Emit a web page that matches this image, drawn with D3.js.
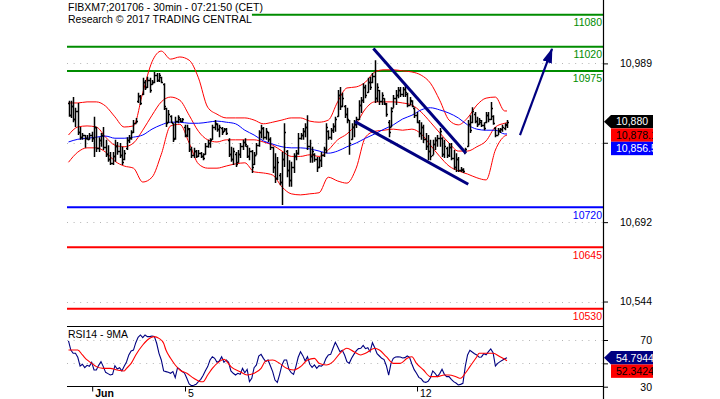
<!DOCTYPE html>
<html>
<head>
<meta charset="utf-8">
<script src="https://cdn.jsdelivr.net/npm/d3@7"></script>
<style>
body { margin: 0; background: #fff; }
svg { display: block; font-family: "Liberation Sans", Arial, sans-serif; }
</style>
</head>
<body>
<div id="chart"></div>
<script>
// Datos (barras de 30 min, índice = número de barra)
const titleLines = ['FIBXM7;201706 - 30min - 07:21:50 (CET)', 'Research \u00a9 2017 TRADING CENTRAL'];
const rsiTitle = 'RSI14 - 9MA';

const dateTicks = [10, 50, 150];
const dateLabels = ['Jun', '5', '12'];

// la etiqueta de 10,840.5 y la de 50 quedan tapadas por los recuadros de valores
const priceTicks = [10989, 10840.5, 10692, 10543.5];
const priceTickLabels = ['10,989', '', '10,692', '10,544'];
const rsiTicks = [70, 50, 30];
const rsiTickLabels = ['70', '', '30'];

const greenLevels = [11080, 11020, 10975];
const blueLevels = [10720];
const redLevels = [10645, 10530];

const barOpen = [
  10915, 10893, 10910, 10885, 10900, 10860, 10852, 10855, 10850, 10848,
  10855, 10850, 10870, 10830, 10845, 10855, 10832, 10820, 10810, 10803,
  10815, 10835, 10825, 10818, 10810, 10830, 10845, 10850, 10860, 10878,
  10918, 10928, 10932, 10955, 10945, 10958, 10950, 10955, 10968, 10958,
  10964, 10950, 10905, 10880, 10890, 10877, 10850, 10882, 10885, 10882,
  10870, 10855, 10866, 10828, 10818, 10825, 10815, 10822, 10815, 10820,
  10835, 10840, 10848, 10870, 10876, 10866, 10868, 10862, 10866, 10845,
  10820, 10810, 10820, 10805, 10820, 10835, 10842, 10835, 10815, 10825,
  10800, 10818, 10836, 10860, 10868, 10852, 10860, 10848, 10832, 10795,
  10775, 10780, 10768, 10810, 10825, 10790, 10770, 10795, 10815, 10822,
  10850, 10855, 10862, 10870, 10835, 10815, 10820, 10810, 10795, 10808,
  10818, 10828, 10862, 10852, 10865, 10872, 10890, 10930, 10910, 10910,
  10895, 10883, 10848, 10870, 10875, 10885, 10912, 10920, 10945, 10935,
  10955, 10955, 10965, 10925, 10940, 10918, 10924, 10913, 10880, 10870,
  10906, 10925, 10930, 10940, 10932, 10942, 10932, 10912, 10918, 10906,
  10892, 10880, 10858, 10870, 10848, 10835, 10825, 10818, 10838, 10845,
  10850, 10850, 10820, 10830, 10818, 10832, 10812, 10795, 10810, 10790,
  10790, 10822, 10835, 10875, 10880, 10895, 10882, 10876, 10880, 10874,
  10880, 10892, 10885, 10890, 10868, 10855, 10862, 10866, 10868, 10874
];
const barHigh = [
  10919, 10919, 10926, 10906, 10915, 10870, 10859, 10855, 10855, 10859,
  10861, 10889, 10870, 10851, 10859, 10870, 10846, 10836, 10823, 10823,
  10846, 10842, 10840, 10833, 10827, 10851, 10855, 10864, 10883, 10887,
  10934, 10930, 10962, 10958, 10964, 10962, 10958, 10973, 10971, 10971,
  10964, 10952, 10906, 10902, 10892, 10877, 10889, 10892, 10887, 10887,
  10874, 10874, 10868, 10833, 10831, 10827, 10827, 10823, 10821, 10840,
  10846, 10849, 10874, 10883, 10877, 10874, 10870, 10868, 10868, 10849,
  10833, 10831, 10823, 10827, 10840, 10846, 10849, 10836, 10831, 10827,
  10823, 10840, 10864, 10874, 10870, 10868, 10861, 10851, 10833, 10821,
  10814, 10784, 10823, 10877, 10827, 10808, 10805, 10821, 10827, 10859,
  10859, 10868, 10877, 10892, 10846, 10833, 10821, 10814, 10814, 10823,
  10833, 10877, 10864, 10868, 10877, 10889, 10939, 10945, 10934, 10911,
  10906, 10883, 10877, 10883, 10889, 10920, 10926, 10952, 10949, 10962,
  10964, 10971, 10995, 10952, 10939, 10935, 10924, 10915, 10883, 10907,
  10930, 10939, 10945, 10945, 10945, 10949, 10934, 10926, 10920, 10907,
  10898, 10883, 10879, 10874, 10859, 10855, 10846, 10846, 10851, 10855,
  10868, 10851, 10846, 10833, 10840, 10840, 10827, 10821, 10814, 10795,
  10793, 10831, 10883, 10892, 10907, 10898, 10889, 10887, 10883, 10879,
  10898, 10898, 10917, 10892, 10870, 10868, 10868, 10874, 10877, 10883
];
const barLow = [
  10889, 10887, 10879, 10870, 10855, 10846, 10846, 10831, 10846, 10846,
  10842, 10814, 10823, 10823, 10833, 10827, 10814, 10805, 10799, 10799,
  10805, 10818, 10812, 10799, 10808, 10827, 10840, 10846, 10859, 10877,
  10915, 10911, 10930, 10939, 10943, 10934, 10949, 10952, 10954, 10954,
  10952, 10902, 10870, 10877, 10877, 10842, 10846, 10877, 10879, 10879,
  10851, 10851, 10823, 10812, 10812, 10812, 10814, 10812, 10808, 10818,
  10831, 10831, 10846, 10864, 10861, 10851, 10855, 10861, 10855, 10814,
  10805, 10799, 10795, 10803, 10812, 10827, 10833, 10812, 10808, 10784,
  10799, 10818, 10833, 10849, 10846, 10846, 10842, 10827, 10784, 10765,
  10771, 10761, 10724, 10795, 10776, 10758, 10758, 10784, 10808, 10818,
  10846, 10846, 10851, 10827, 10803, 10803, 10805, 10786, 10793, 10795,
  10814, 10821, 10846, 10846, 10859, 10861, 10889, 10902, 10907, 10887,
  10877, 10818, 10846, 10851, 10868, 10883, 10896, 10915, 10924, 10934,
  10939, 10952, 10915, 10917, 10911, 10911, 10911, 10889, 10851, 10870,
  10906, 10911, 10924, 10926, 10926, 10926, 10907, 10911, 10907, 10887,
  10877, 10851, 10846, 10840, 10827, 10808, 10808, 10818, 10827, 10833,
  10833, 10814, 10812, 10812, 10814, 10808, 10790, 10786, 10786, 10786,
  10784, 10821, 10833, 10859, 10877, 10877, 10870, 10874, 10870, 10864,
  10877, 10879, 10883, 10874, 10851, 10855, 10859, 10861, 10864, 10868
];
const barClose = [
  10893, 10910, 10885, 10900, 10860, 10852, 10855, 10850, 10848, 10855,
  10850, 10870, 10830, 10845, 10855, 10832, 10820, 10810, 10803, 10815,
  10835, 10825, 10818, 10805, 10822, 10845, 10850, 10860, 10878, 10882,
  10928, 10915, 10955, 10945, 10958, 10940, 10955, 10968, 10958, 10968,
  10955, 10910, 10878, 10895, 10880, 10848, 10882, 10888, 10882, 10885,
  10855, 10868, 10828, 10818, 10825, 10815, 10822, 10815, 10812, 10835,
  10840, 10845, 10870, 10878, 10866, 10870, 10860, 10866, 10858, 10820,
  10810, 10825, 10800, 10820, 10835, 10842, 10838, 10815, 10825, 10795,
  10818, 10836, 10860, 10868, 10852, 10862, 10848, 10832, 10795, 10775,
  10805, 10768, 10810, 10860, 10790, 10770, 10795, 10815, 10822, 10850,
  10855, 10862, 10870, 10835, 10815, 10825, 10810, 10795, 10808, 10818,
  10828, 10870, 10852, 10865, 10872, 10885, 10930, 10910, 10925, 10895,
  10885, 10840, 10870, 10875, 10885, 10912, 10920, 10945, 10930, 10955,
  10945, 10965, 10925, 10945, 10918, 10930, 10915, 10895, 10860, 10900,
  10925, 10930, 10940, 10932, 10942, 10935, 10912, 10920, 10910, 10892,
  10880, 10858, 10870, 10848, 10835, 10825, 10815, 10838, 10845, 10850,
  10862, 10820, 10835, 10818, 10832, 10812, 10795, 10810, 10790, 10792,
  10788, 10828, 10875, 10865, 10900, 10882, 10875, 10884, 10874, 10868,
  10892, 10885, 10905, 10878, 10855, 10865, 10866, 10870, 10875, 10880
];

// Bandas de Bollinger y media (leídas cada 4 barras)
const bandIdx = [0, 4, 8, 12, 16, 20, 24, 28, 32, 36, 40, 44, 48, 52, 56, 60, 64, 68, 72, 76,
  80, 84, 88, 92, 96, 100, 104, 108, 112, 116, 120, 124, 128, 132, 136, 140, 144, 148, 152, 156,
  160, 164, 168, 172, 176, 180, 184, 188, 189];
const bbUpper = [10915, 10915, 10917, 10917, 10909, 10889, 10870, 10872, 10934, 10992, 11012, 10997, 11001, 10995, 10962, 10907, 10894, 10887, 10887, 10887,
  10883, 10876, 10879, 10883, 10887, 10887, 10881, 10879, 10883, 10917, 10943, 10945, 10954, 10973, 10977, 10977, 10975, 10973, 10967, 10952,
  10920, 10883, 10874, 10887, 10911, 10924, 10926, 10900, 10900];
const bbMiddle = [10855, 10870, 10872, 10870, 10851, 10836, 10833, 10840, 10864, 10892, 10917, 10926, 10920, 10892, 10862, 10846, 10842, 10846, 10846, 10846,
  10846, 10842, 10836, 10825, 10815, 10815, 10818, 10815, 10827, 10846, 10857, 10876, 10904, 10917, 10917, 10917, 10915, 10911, 10898, 10879,
  10859, 10840, 10825, 10825, 10833, 10844, 10870, 10877, 10878];
const bbLower = [10804, 10823, 10831, 10831, 10823, 10806, 10797, 10793, 10767, 10776, 10819, 10872, 10875, 10840, 10801, 10793, 10793, 10797, 10801, 10803,
  10786, 10784, 10780, 10758, 10745, 10743, 10745, 10747, 10776, 10769, 10765, 10793, 10851, 10862, 10864, 10866, 10864, 10866, 10857, 10836,
  10815, 10797, 10788, 10782, 10775, 10771, 10827, 10853, 10855];
const maBlue = [10842, 10847, 10849, 10851, 10853, 10849, 10849, 10851, 10855, 10866, 10874, 10879, 10879, 10877, 10877, 10879, 10881, 10879, 10876, 10864,
  10855, 10844, 10838, 10833, 10831, 10831, 10829, 10825, 10821, 10825, 10833, 10840, 10849, 10857, 10866, 10874, 10885, 10892, 10902, 10906,
  10902, 10896, 10887, 10874, 10866, 10864, 10864, 10857, 10857];

// Líneas de tendencia y flecha: [índice de barra, precio]
const trendUpper = [[131.4, 11017], [171.3, 10821]];
const trendLower = [[123.5, 10880], [172.3, 10763]];
const arrowPts = [[194.6, 10855], [208.4, 11016]];

// RSI 14 por barra
const rsiValues = [
  69.2, 61.4, 58.6, 58.6, 55.2, 47.7, 49.2, 46.3, 48.3, 47.5,
  50.9, 44.3, 44.3, 48.3, 51.5, 47.2, 42.3, 41.2, 40.0, 40.6,
  48.0, 45.2, 46.3, 43.5, 47.5, 51.2, 57.2, 60.6, 61.4, 67.7,
  72.3, 74.3, 72.0, 74.3, 72.9, 72.9, 73.4, 73.1, 67.2, 58.6,
  52.9, 43.5, 42.9, 42.3, 41.5, 42.9, 37.7, 46.3, 44.9, 42.9,
  41.7, 37.2, 32.3, 30.9, 31.2, 32.0, 34.3, 36.3, 39.5, 43.7,
  47.2, 52.9, 55.7, 54.3, 50.9, 52.0, 55.7, 50.9, 52.9, 50.9,
  43.5, 41.5, 40.0, 41.5, 40.6, 45.7, 42.0, 44.9, 34.3, 37.2,
  46.3, 48.6, 56.3, 57.7, 54.3, 51.5, 52.9, 48.0, 42.9, 35.7,
  33.7, 40.6, 48.6, 52.9, 52.9, 44.9, 42.0, 40.6, 47.2, 55.2,
  60.0, 56.6, 52.0, 55.7, 49.2, 46.6, 48.6, 45.7, 48.0, 47.5,
  49.2, 54.3, 57.2, 57.7, 62.9, 68.0, 64.3, 60.0, 61.2, 57.2,
  51.5, 50.0, 54.3, 57.7, 60.6, 62.6, 62.9, 65.4, 62.6, 63.4,
  60.0, 67.7, 63.4, 58.3, 56.3, 54.3, 53.2, 48.0, 40.0, 50.0,
  54.3, 55.5, 55.7, 55.5, 54.6, 54.9, 56.3, 55.2, 49.5, 44.6,
  41.5, 38.0, 36.9, 34.3, 33.7, 34.6, 37.7, 43.5, 41.5, 38.6,
  41.2, 44.9, 40.6, 38.6, 38.6, 36.3, 34.3, 33.2, 31.5, 32.0,
  32.9, 47.2, 57.2, 61.2, 59.7, 58.3, 57.2, 55.2, 55.5, 58.3,
  57.4, 60.0, 62.3, 59.2, 47.7, 50.0, 51.5, 52.6, 54.0, 54.8
];
// Media de 9 del RSI (puntos leídos)
const rsiMaIdx = [0, 4, 6, 8, 10, 12, 15, 18, 21, 24, 25, 27, 29, 32, 34, 37, 39, 41, 42, 44,
  46, 48, 51, 54, 57, 58, 60, 62, 65, 67, 68, 70, 74, 77, 80, 83, 85, 88, 91, 94,
  97, 100, 103, 106, 108, 111, 114, 117, 120, 123, 126, 128, 132, 134, 137, 140, 143, 146, 148, 150,
  153, 156, 159, 162, 164, 167, 169, 171, 173, 176, 177, 180, 183, 186, 189];
const rsiMaValues = [61.4, 61.4, 57.2, 52.9, 50.0, 47.2, 45.7, 45.7, 44.3, 43.5, 45.7, 50.0, 57.2, 65.7, 70.0, 72.9, 71.4, 67.2, 61.4, 54.3,
  48.6, 44.3, 41.5, 37.2, 34.3, 34.3, 40.0, 45.7, 51.5, 53.5, 52.0, 47.2, 42.9, 40.0, 41.5, 45.7, 52.0, 52.9, 50.0, 45.7,
  44.3, 47.2, 52.9, 54.3, 50.0, 48.6, 51.5, 58.6, 62.9, 60.0, 57.2, 58.6, 62.9, 61.4, 55.7, 50.0, 50.0, 54.3, 55.7, 50.0,
  44.3, 38.6, 38.6, 40.0, 40.0, 38.6, 37.2, 41.5, 47.2, 55.7, 58.6, 58.6, 58.6, 55.7, 52.3];

// Últimos valores mostrados en el eje
const lastClose = 10880;
const lastBbMiddle = 10878.1;
const lastMa = 10856.5;
const lastRsi = 54.7944;
const lastRsiMa = 52.3424;

// ---------------------------------------------------------------
const width = 720;
const height = 399;
const panel = { left: 67, right: 603, mainTop: 0, mainBottom: 326, rsiTop: 326.5, rsiBottom: 386.5 };
const FONT = 10.5;

const svg = d3.select('#chart').append('svg')
    .attr('width', width)
    .attr('height', height);

const x = d3.scaleLinear().domain([0, 189]).range([68.5, 507]);
const y = d3.scaleLinear().domain([10497.7, 11107.6]).range([panel.mainBottom, panel.mainTop]);
const yRsi = d3.scaleLinear().domain([30, 70]).range([386.7, 340]);

const defs = svg.append('defs');
defs.append('clipPath').attr('id', 'clipMain').append('rect')
    .attr('x', panel.left).attr('y', panel.mainTop)
    .attr('width', panel.right - panel.left).attr('height', panel.mainBottom - panel.mainTop);
defs.append('clipPath').attr('id', 'clipRsi').append('rect')
    .attr('x', panel.left).attr('y', panel.rsiTop)
    .attr('width', panel.right - panel.left).attr('height', panel.rsiBottom - panel.rsiTop);
defs.append('clipPath').attr('id', 'clipTags').append('rect')
    .attr('x', 603).attr('y', 0).attr('width', 50).attr('height', height);
defs.append('marker')
    .attr('id', 'arrowHead')
    .attr('markerUnits', 'userSpaceOnUse')
    .attr('markerWidth', 16).attr('markerHeight', 12)
    .attr('refX', 14).attr('refY', 5)
    .attr('orient', 'auto')
    .append('path')
    .attr('d', 'M0,0L15,5L0,10Z')
    .attr('fill', '#000080');

// Rejilla punteada
const grid = svg.append('g').attr('stroke', '#b4b4b4').attr('stroke-dasharray', '1,5.6');
grid.selectAll('.gmain').data(priceTicks).enter().append('line')
    .attr('x1', panel.left).attr('x2', panel.right)
    .attr('y1', d => Math.round(y(d)) + 0.5).attr('y2', d => Math.round(y(d)) + 0.5);
grid.selectAll('.grsi').data(rsiTicks.slice(0, 2)).enter().append('line')
    .attr('x1', panel.left).attr('x2', panel.right)
    .attr('y1', d => Math.round(yRsi(d)) + 0.5).attr('y2', d => Math.round(yRsi(d)) + 0.5);

// Niveles horizontales
const main = svg.append('g').attr('clip-path', 'url(#clipMain)');
const levelSets = [
    { values: greenLevels, color: '#008c00' },
    { values: blueLevels, color: '#0000ff' },
    { values: redLevels, color: '#ff0000' }
];
levelSets.forEach(set => {
    main.selectAll(null).data(set.values).enter().append('line')
        .attr('x1', panel.left).attr('x2', panel.right)
        .attr('y1', d => y(d)).attr('y2', d => y(d))
        .attr('stroke', set.color).attr('stroke-width', 2);
});

// Bandas y media
const bandLine = vals => d3.line()
    .x((d, k) => x(bandIdx[k]))
    .y(d => y(d))
    .curve(d3.curveMonotoneX)(vals);
[bbUpper, bbMiddle, bbLower].forEach(vals => {
    main.append('path').attr('d', bandLine(vals))
        .attr('fill', 'none').attr('stroke', '#ff0000').attr('stroke-width', 1);
});
main.append('path').attr('d', bandLine(maBlue))
    .attr('fill', 'none').attr('stroke', '#0000ff').attr('stroke-width', 1);

// Barras OHLC
const bars = barHigh.map((h, i) => ({ i: i, o: barOpen[i], h: h, l: barLow[i], c: barClose[i] }));
main.selectAll('.bar').data(bars).enter().append('path')
    .attr('class', 'bar')
    .attr('d', d => {
        const cx = Math.round(x(d.i)) + 0.5;
        const yo = Math.round(y(d.o)) + 0.5;
        const yc = Math.round(y(d.c)) + 0.5;
        return `M${cx},${y(d.h)}V${y(d.l)}M${cx - 1.5},${yo}H${cx}M${cx},${yc}H${cx + 1.5}`;
    })
    .attr('fill', 'none').attr('stroke', '#000').attr('stroke-width', 1.5);

// Líneas de tendencia
[trendUpper, trendLower].forEach(pts => {
    main.append('line')
        .attr('x1', x(pts[0][0])).attr('y1', y(pts[0][1]))
        .attr('x2', x(pts[1][0])).attr('y2', y(pts[1][1]))
        .attr('stroke', '#000080').attr('stroke-width', 3);
});
main.append('line')
    .attr('x1', x(arrowPts[0][0])).attr('y1', y(arrowPts[0][1]))
    .attr('x2', x(arrowPts[1][0])).attr('y2', y(arrowPts[1][1]))
    .attr('stroke', '#000080').attr('stroke-width', 2.2)
    .attr('marker-end', 'url(#arrowHead)');

// Etiquetas de niveles
levelSets.forEach(set => {
    svg.selectAll(null).data(set.values).enter().append('text')
        .attr('x', 602).attr('y', d => y(d) + 11.5)
        .attr('text-anchor', 'end')
        .attr('font-size', FONT)
        .attr('fill', set.color)
        .text(d => d);
});

// Título con fondo blanco
const titleG = svg.append('g');
titleLines.forEach((t, k) => {
    const txt = titleG.append('text')
        .attr('x', 68).attr('y', 10.5 + k * 12.6)
        .attr('font-size', FONT).attr('fill', '#000')
        .text(t);
    const bb = txt.node().getBBox();
    titleG.insert('rect', () => txt.node())
        .attr('x', bb.x - 1).attr('y', bb.y)
        .attr('width', bb.width + 1).attr('height', bb.height)
        .attr('fill', '#fff');
});

// Panel RSI
const rsiG = svg.append('g').attr('clip-path', 'url(#clipRsi)');
rsiG.append('path')
    .attr('d', d3.line().x((d, i) => x(i)).y(d => yRsi(d))(rsiValues))
    .attr('fill', 'none').attr('stroke', '#000080').attr('stroke-width', 1.1);
rsiG.append('path')
    .attr('d', d3.line().x((d, k) => x(rsiMaIdx[k])).y(d => yRsi(d)).curve(d3.curveMonotoneX)(rsiMaValues))
    .attr('fill', 'none').attr('stroke', '#ff0000').attr('stroke-width', 1.1);

svg.append('text')
    .attr('x', 68).attr('y', 338)
    .attr('font-size', FONT).attr('fill', '#000')
    .text(rsiTitle);

// Bordes del panel RSI y eje vertical
svg.append('g').attr('stroke', '#000').attr('stroke-width', 1)
    .selectAll('line')
    .data([panel.rsiTop, panel.rsiBottom])
    .enter().append('line')
    .attr('x1', panel.left).attr('x2', panel.right)
    .attr('y1', d => d).attr('y2', d => d);
svg.append('line')
    .attr('x1', panel.right + 0.5).attr('x2', panel.right + 0.5)
    .attr('y1', 0).attr('y2', height)
    .attr('stroke', '#000').attr('stroke-width', 1.2);

// Ejes
function styleAxis(g) {
    g.select('.domain').remove();
    g.selectAll('.tick line').attr('stroke', '#000');
    g.selectAll('text')
        .attr('font-family', '"Liberation Sans", Arial, sans-serif')
        .attr('font-size', FONT)
        .attr('fill', '#000');
}
const axisPrice = svg.append('g')
    .attr('transform', `translate(${panel.right},0)`)
    .call(d3.axisRight(y).tickValues(priceTicks).tickSize(5).tickFormat((d, k) => priceTickLabels[k]));
styleAxis(axisPrice);
axisPrice.selectAll('text').attr('x', 49).attr('text-anchor', 'end');

const axisRsi = svg.append('g')
    .attr('transform', `translate(${panel.right},0)`)
    .call(d3.axisRight(yRsi).tickValues(rsiTicks).tickSize(5).tickFormat((d, k) => rsiTickLabels[k]));
styleAxis(axisRsi);
axisRsi.selectAll('text').attr('x', 49).attr('text-anchor', 'end');

const axisDate = svg.append('g')
    .attr('transform', `translate(0,${panel.rsiBottom})`)
    .call(d3.axisBottom(x).tickValues(dateTicks).tickSize(5).tickFormat((d, k) => dateLabels[k]));
styleAxis(axisDate);
axisDate.selectAll('.tick line').attr('transform', 'translate(0.5,0)');
axisDate.selectAll('text')
    .attr('text-anchor', 'start')
    .attr('x', 3).attr('y', 3)
    .attr('font-weight', (d, k) => k === 0 ? 'bold' : 'normal');

// Etiquetas de últimos valores
function drawTags(tags, scale) {
    const g = svg.append('g').attr('clip-path', 'url(#clipTags)');
    const h = 13.4;
    let lastBottom = -Infinity;
    tags.forEach(t => {
        const top = Math.max(scale(t.value) - h / 2, lastBottom);
        lastBottom = top + h;
        const cy = top + h / 2;
        if (t.pointer) {
            g.append('path')
                .attr('d', `M604,${cy}L611,${top}H653V${top + h}H611Z`)
                .attr('fill', t.fill);
        } else {
            g.append('rect')
                .attr('x', 611).attr('y', top)
                .attr('width', 42).attr('height', h)
                .attr('fill', t.fill);
        }
        g.append('text')
            .attr('x', 616).attr('y', cy + 3.8)
            .attr('font-size', FONT)
            .attr('fill', t.text)
            .text(t.label);
    });
}
const fmtPrice = d3.format(',');
drawTags([
    { value: lastClose, label: fmtPrice(lastClose), fill: '#000', text: '#fff', pointer: true },
    { value: lastBbMiddle, label: fmtPrice(lastBbMiddle), fill: '#ff0000', text: '#000' },
    { value: lastMa, label: fmtPrice(lastMa), fill: '#0000ff', text: '#fff' }
], y);
drawTags([
    { value: lastRsi, label: d3.format('.4f')(lastRsi), fill: '#000080', text: '#fff', pointer: true },
    { value: lastRsiMa, label: d3.format('.4f')(lastRsiMa), fill: '#ff0000', text: '#000' }
], yRsi);
</script>
</body>
</html>
